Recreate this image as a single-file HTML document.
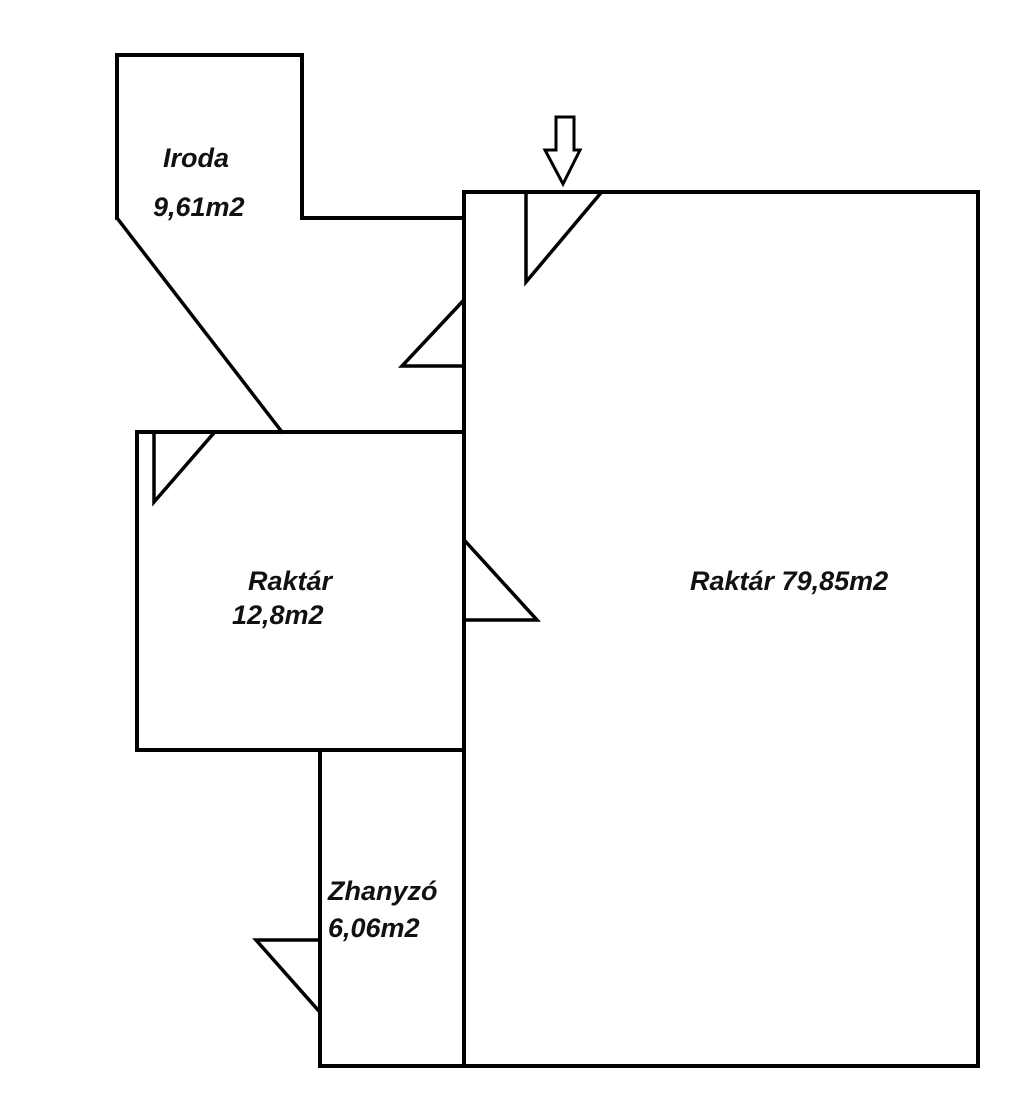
<!DOCTYPE html>
<html><head><meta charset="utf-8"><style>
html,body{margin:0;padding:0;background:#fff;}
svg{display:block;}
text{font-family:"Liberation Sans",sans-serif;font-weight:bold;font-style:italic;font-size:27px;fill:#111;}
</style></head><body>
<svg width="1024" height="1114" viewBox="0 0 1024 1114" xmlns="http://www.w3.org/2000/svg">
<g fill="none" stroke="#000" stroke-width="4" stroke-linecap="square">
<rect x="464" y="192" width="514" height="874"/>
<polyline points="117,218 117,55 302,55 302,218 460,218"/>
<line x1="117" y1="218" x2="282" y2="432" stroke-width="3.5"/>
<polyline points="460,432 137,432 137,750 464,750"/>
<polyline points="320,752 320,1066 464,1066"/>
<polyline points="526,194 526,282 600,194" stroke-width="3.5"/>
<polyline points="462,302 402,366 462,366" stroke-width="3.5"/>
<polyline points="154,434 154,502 213,434" stroke-width="3.5"/>
<polyline points="466,542 537,620 466,620" stroke-width="3.5"/>
<polyline points="318,940 256,940 318,1010" stroke-width="3.5"/>
<polygon points="556,117 574,117 574,150 580,150 563,184 545,150 556,150" stroke-width="3" stroke-linejoin="miter"/>
</g>
<text x="163" y="167">Iroda</text>
<text x="153" y="216">9,61m2</text>
<text x="248" y="590">Raktár</text>
<text x="232" y="624">12,8m2</text>
<text x="690" y="590">Raktár 79,85m2</text>
<text x="328" y="900">Zhanyzó</text>
<text x="328" y="937">6,06m2</text>
</svg>
</body></html>
